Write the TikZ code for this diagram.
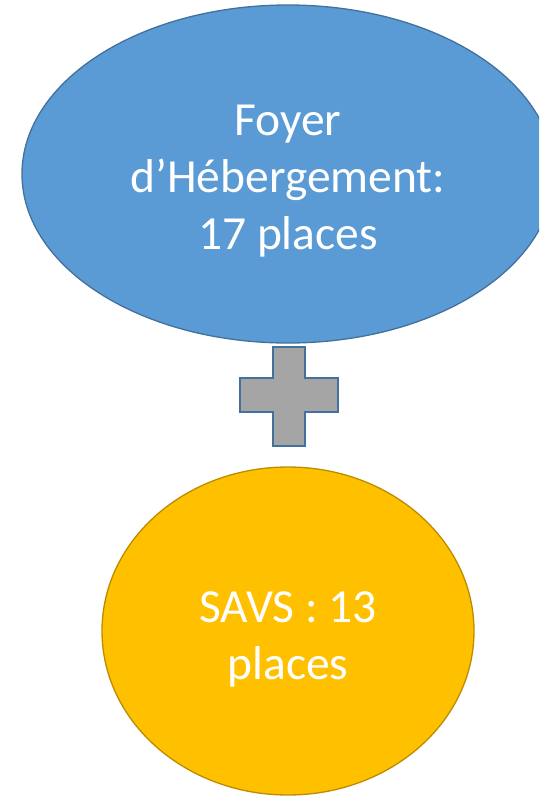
\documentclass[tikz,border=0pt]{standalone}
\usepackage{fontspec}
\setmainfont{Carlito}
\usetikzlibrary{shapes.geometric}
\definecolor{fillblue}{HTML}{5B9BD5}
\definecolor{edgeblue}{HTML}{41719C}
\definecolor{fillgold}{HTML}{FFC000}
\definecolor{edgegold}{HTML}{BC8C00}
\definecolor{crossgray}{HTML}{A5A5A5}
\tikzset{
  bubble/.style={ellipse, draw, line width=1.3pt, inner sep=0pt},
  label text/.style={text=white, align=center, font=\fontsize{47.5}{57}\selectfont},
}
\begin{document}
\begin{tikzpicture}[x=1pt,y=-1pt]
\useasboundingbox (0,0) rectangle (539,796);
\clip (0,0) rectangle (539,796);
\fill[white] (0,0) rectangle (539,796);
% top ellipse
\node[bubble, fill=fillblue, draw=edgeblue, minimum width=532pt, minimum height=338pt] (foyer) at (288,174) {};
\node[label text] (foyertxt) at (288,181) {Foyer\\d’Hébergement:\\17 places};
% plus sign
\draw[fill=crossgray, draw=edgeblue, line width=1.3pt]
  (273,347) -- (305,347) -- (305,378) -- (338,378) -- (338,412) -- (305,412)
  -- (305,446) -- (273,446) -- (273,412) -- (240,412) -- (240,378) -- (273,378) -- cycle;
% bottom ellipse
\node[bubble, fill=fillgold, draw=edgegold, minimum width=372pt, minimum height=328pt] (savs) at (288,631) {};
\node[label text] (savstxt) at (288,639) {SAVS : 13\\places};
\end{tikzpicture}
\end{document}
